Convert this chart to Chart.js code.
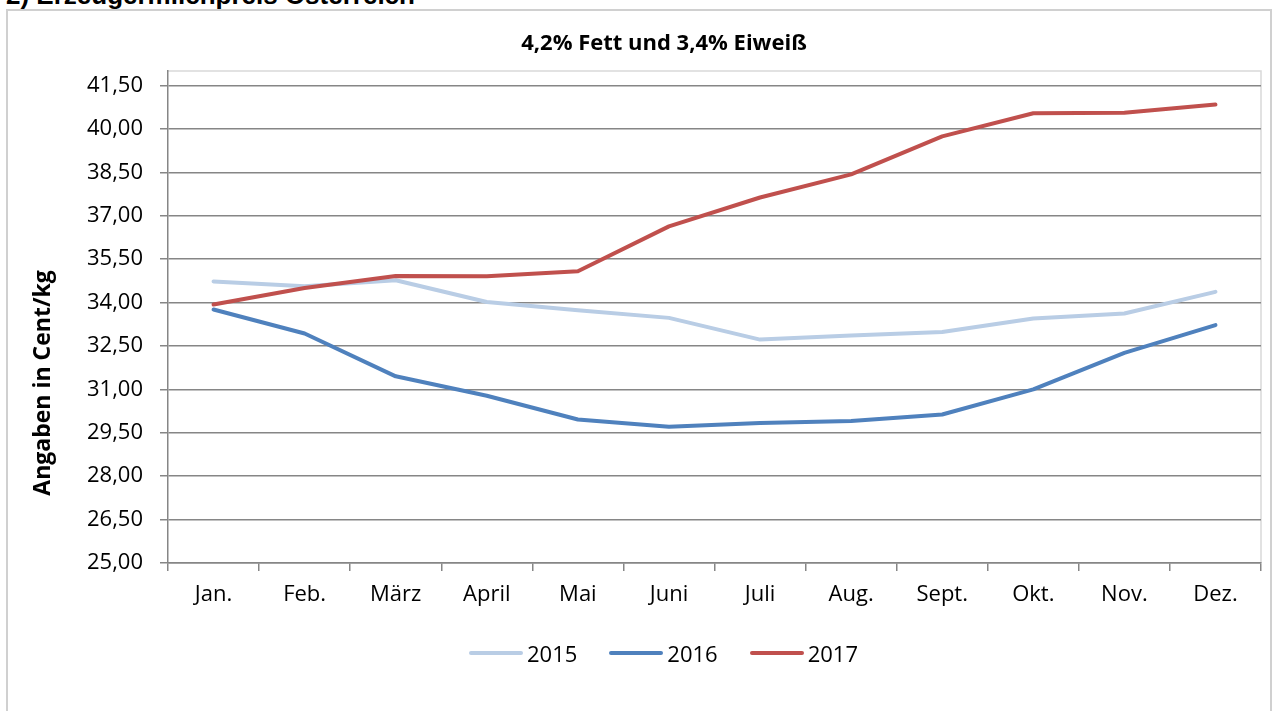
<!DOCTYPE html>
<html lang="de">
<head>
<meta charset="utf-8">
<title>Erzeugermilchpreis Österreich</title>
<script src="https://cdn.jsdelivr.net/npm/chart.js@4.4.1/dist/chart.umd.min.js"></script>
<style>
  html, body { margin: 0; padding: 0; background: #fff; }
  body { width: 1273px; height: 711px; position: relative; overflow: hidden; }
  #headline {
    position: absolute; left: 6px; top: -18px;
    font: bold 26px "Liberation Sans", Arial, sans-serif; line-height: 26px;
    color: #000; white-space: nowrap;
  }
  #frame {
    position: absolute; left: 6px; top: 9px; width: 1266px; height: 720px;
    border: 2px solid #d0d0d0; box-sizing: border-box;
  }
  #wrap { position: absolute; left: 0; top: 0; width: 1273px; height: 711px; }
  #legend {
    position: absolute; left: 469px; top: 638px;
    display: flex; align-items: center;
    font: 22px "Open Sans", sans-serif; color: #000;
  }
</style>
</head>
<body>
<div id="headline">2) Erzeugermilchpreis Österreich</div>
<div id="frame"></div>
<div id="wrap"><canvas id="chart" width="1273" height="711"></canvas></div>
<div id="legend"></div>

<script>
// months
const months = ["Jan.", "Feb.", "März", "April", "Mai", "Juni", "Juli", "Aug.", "Sept.", "Okt.", "Nov.", "Dez."];

// Cent/kg
const price2015 = [34.73, 34.56, 34.77, 34.02, 33.73, 33.47, 32.72, 32.86, 32.98, 33.45, 33.62, 34.37];
const price2016 = [33.76, 32.93, 31.45, 30.78, 29.96, 29.71, 29.84, 29.91, 30.13, 31.00, 32.26, 33.22];
const price2017 = [33.93, 34.50, 34.92, 34.91, 35.08, 36.63, 37.63, 38.43, 39.74, 40.54, 40.56, 40.84];

const yearLabels = ["2015", "2016", "2017"];
const yearColors = ["#B9CDE5", "#4F81BD", "#C0504D"];

const yTicks = [25, 26.5, 28, 29.5, 31, 32.5, 34, 35.5, 37, 38.5, 40, 41.5];

const chartTitle = "4,2% Fett und 3,4% Eiweiß";
const yAxisTitle = "Angaben in Cent/kg";

const gridColor = "#868686";

// title, y axis title and the light border round the plot area
const decorations = {
  id: "decorations",
  beforeDraw(chart) {
    const { ctx, chartArea } = chart;
    ctx.save();
    ctx.strokeStyle = "#d9d9d9";
    ctx.lineWidth = 1.5;
    ctx.beginPath();
    ctx.moveTo(chartArea.left, chartArea.top);
    ctx.lineTo(chartArea.right, chartArea.top);
    ctx.lineTo(chartArea.right, chartArea.bottom);
    ctx.stroke();
    ctx.restore();
  },
  afterDraw(chart) {
    const { ctx } = chart;
    ctx.save();
    ctx.fillStyle = "#000";
    ctx.textAlign = "center";
    ctx.textBaseline = "middle";
    ctx.font = 'bold 22px "Open Sans", sans-serif';
    ctx.fillText(chartTitle, 664, 44);

    ctx.font = 'bold 23px "Open Sans", sans-serif';
    ctx.translate(43, 383);
    ctx.rotate(-Math.PI / 2);
    ctx.fillText(yAxisTitle, 0, 0);
    ctx.restore();
  },
};

const series = [price2015, price2016, price2017];

new Chart(document.getElementById("chart"), {
  type: "line",
  data: {
    labels: months,
    datasets: series.map((data, i) => ({
      label: yearLabels[i],
      data: data,
      borderColor: yearColors[i],
      backgroundColor: yearColors[i],
      borderWidth: 4,
      pointRadius: 0,
      tension: 0,
      fill: false,
      borderJoinStyle: "round",
      borderCapStyle: "round",
      order: 3 - i,
    })),
  },
  options: {
    responsive: false,
    animation: false,
    layout: { padding: { left: 0, top: 71, right: 12, bottom: 98 } },
    plugins: {
      legend: { display: false },
      title: { display: false },
      tooltip: { enabled: false },
    },
    scales: {
      x: {
        offset: true,
        grid: {
          offset: true,
          drawOnChartArea: false,
          drawTicks: true,
          tickLength: 8,
          color: gridColor,
          lineWidth: 1.5,
        },
        border: { display: true, color: gridColor, width: 1.5 },
        ticks: {
          color: "#000",
          padding: 11,
          maxRotation: 0,
          autoSkip: false,
          font: { family: "Open Sans", size: 22 },
        },
        afterFit(scale) { scale.height = 50; },
      },
      y: {
        min: 25,
        max: 42,
        afterBuildTicks(scale) {
          scale.ticks = yTicks.map((v) => ({ value: v }));
        },
        grid: {
          color: gridColor,
          lineWidth: 1.5,
          drawTicks: true,
          tickLength: 8,
        },
        border: { display: true, color: gridColor, width: 1.5 },
        ticks: {
          color: "#000",
          padding: 17,
          font: { family: "Open Sans", size: 22 },
          callback: (v) => Number(v).toFixed(2).replace(".", ","),
        },
        afterFit(scale) { scale.width = 168; },
      },
    },
  },
  plugins: [decorations],
});

// legend like in the original: short thick line + year
const legendEl = document.getElementById("legend");
yearLabels.forEach((year, i) => {
  const item = document.createElement("div");
  item.style.display = "flex";
  item.style.alignItems = "center";
  item.style.marginRight = i < yearLabels.length - 1 ? "32px" : "0";
  const line = document.createElement("span");
  line.style.display = "inline-block";
  line.style.width = "54px";
  line.style.height = "4px";
  line.style.borderRadius = "2px";
  line.style.background = yearColors[i];
  line.style.marginRight = "4px";
  const txt = document.createElement("span");
  txt.textContent = year;
  item.appendChild(line);
  item.appendChild(txt);
  legendEl.appendChild(item);
});
</script>
</body>
</html>
